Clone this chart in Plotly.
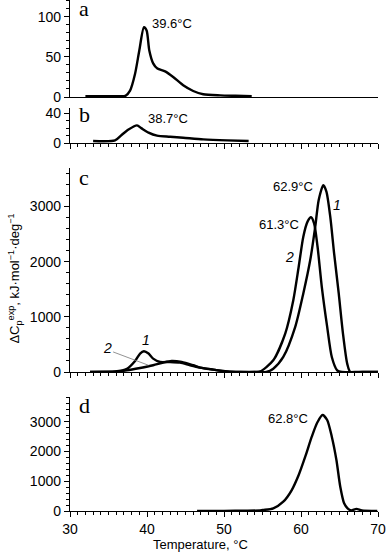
import plotly.graph_objects as go

# ---- data ----
Ta = [32.0, 34.0, 36.0, 37.2, 37.8, 38.45, 39.0, 39.6, 39.95, 40.3, 40.8, 41.35, 42.35, 43.4, 44.7, 46.0, 47.3, 49.5, 51.5, 53.6]
Va = [1, 1, 1, 1.5, 8, 29, 58, 87, 83, 58, 42, 35.5, 32, 25, 14.6, 7.5, 3.4, 2, 1.5, 1]

Tb = [33.0, 35.85, 36.7, 37.6, 38.7, 39.3, 40.2, 41.3, 43.0, 44.7, 47.3, 50.4, 53.2]
Vb = [2.7, 3.5, 10.7, 18, 23.5, 19.5, 13.8, 9.8, 8.4, 7.1, 4.9, 3.5, 2.7]

Tc1 = [32.6, 34.5, 35.85, 37.4, 38.45, 39.1, 39.6, 40.2, 40.8, 41.7, 43.0, 44.3, 45.6, 46.9, 48.6, 50.4, 52.1, 54.0,
       55.5, 56.4, 57.7, 59.25, 60.3, 61.2, 61.85, 62.3, 62.9, 63.3, 63.8, 64.3, 64.9, 65.45, 66.0, 66.4, 68.0, 70.0]
Vc1 = [0, 5, 10, 60, 200, 335, 376, 335, 243, 182, 182, 170, 122, 80, 43, 10, 0, 0,
       0, 60, 273, 818, 1425, 2030, 2636, 3121, 3390, 3273, 2818, 2152, 1425, 697, 152, 0, 0, 0]

Tc2 = [32.6, 35.85, 37.4, 39.1, 40.8, 42.1, 43.2, 44.5, 46.0, 46.9, 48.6, 50.4, 52.1, 54.0, 54.7, 56.4, 57.95, 59.0,
       59.7, 60.3, 60.85, 61.3, 61.7, 62.15, 62.7, 63.4, 64.0, 64.7, 65.3, 67.0, 70.0]
Vc2 = [0, 5, 30, 73, 122, 170, 200, 182, 122, 80, 43, 10, 0, 0, 10, 212, 697, 1303,
       1909, 2454, 2727, 2806, 2697, 2272, 1545, 818, 273, 30, 0, 0, 0]

Td = [46.5, 50.0, 53.0, 54.7, 55.1, 56.4, 57.7, 58.8, 59.7, 60.55, 61.4, 62.1, 62.8, 63.4, 64.0, 64.6, 65.1, 65.6,
      66.05, 66.5, 67.2, 67.9, 69.9]
Vd = [0, 5, 10, 20, 34, 90, 313, 705, 1209, 1824, 2496, 2966, 3225, 3057, 2496, 1713, 816, 259,
      90, 20, 70, 20, 0]

x_ticks = [30, 40, 50, 60, 70]
FONT = "Liberation Sans, Arial, sans-serif"
SERIF = "Liberation Serif, Times New Roman, serif"

fig = go.Figure()
line = dict(color="black", width=2.4, shape="spline", smoothing=0.7)
fig.add_trace(go.Scatter(x=Ta, y=Va, mode="lines", line=line, xaxis="x", yaxis="y"))
fig.add_trace(go.Scatter(x=Tb, y=Vb, mode="lines", line=line, xaxis="x2", yaxis="y2"))
fig.add_trace(go.Scatter(x=Tc1, y=Vc1, mode="lines", line=line, xaxis="x3", yaxis="y3"))
fig.add_trace(go.Scatter(x=Tc2, y=Vc2, mode="lines", line=line, xaxis="x3", yaxis="y3"))
fig.add_trace(go.Scatter(x=Td, y=Vd, mode="lines", line=line, xaxis="x4", yaxis="y4"))

H = 511.0
def dom(top, bot):
    return [(H - bot) / H, (H - top) / H]

def xax(anchor, ticks=True, labels=False):
    d = dict(range=[30, 70], domain=[0, 1], anchor=anchor, showline=True, linecolor="black", linewidth=1.4,
             showgrid=False, zeroline=False, tickvals=x_ticks, showticklabels=labels, automargin=False,
             tickfont=dict(family=FONT, size=14, color="black"))
    if ticks:
        d.update(ticks="outside", ticklen=5, tickwidth=1, tickcolor="black",
                 minor=dict(dtick=1, tick0=30, ticks="outside", ticklen=3, tickwidth=1, tickcolor="black"))
    else:
        d.update(ticks="")
    return d

def yax(anchor, domain, rng, dtick, mdtick):
    return dict(range=rng, domain=domain, anchor=anchor, showline=True, linecolor="black", linewidth=1.4,
                showgrid=False, zeroline=False, ticks="outside", ticklen=5, tickwidth=1, tickcolor="black",
                dtick=dtick, tick0=0, tickfont=dict(family=FONT, size=14, color="black"), automargin=False,
                minor=dict(dtick=mdtick, tick0=0, ticks="outside", ticklen=3, tickwidth=1, tickcolor="black"))

fig.update_layout(
    width=387, height=560, margin=dict(l=70, r=9, t=0, b=49, autoexpand=False),
    paper_bgcolor="white", plot_bgcolor="white", showlegend=False,
    xaxis=xax("y", ticks=False),
    xaxis2=xax("y2"),
    xaxis3=xax("y3"),
    xaxis4=xax("y4", labels=True),
    yaxis=yax("x", dom(0, 97), [0, 121], 50, 10),
    yaxis2=yax("x2", dom(108, 143), [0, 46.7], 40, 10),
    yaxis3=yax("x3", dom(168, 372), [0, 3700], 1000, 200),
    yaxis4=yax("x4", dom(397, 511), [0, 3830], 1000, 200),
)

ann_font = dict(family=FONT, size=13, color="black")
ital_font = dict(family=FONT, size=14, color="black")
letter_font = dict(family=SERIF, size=22, color="black")
anns = [
    dict(x=31.85, y=110, xref="x", yref="y", text="a", font=letter_font),
    dict(x=31.85, y=37.5, xref="x2", yref="y2", text="b", font=letter_font),
    dict(x=31.85, y=3533, xref="x3", yref="y3", text="c", font=letter_font),
    dict(x=31.85, y=3557, xref="x4", yref="y4", text="d", font=letter_font),
    dict(x=43.3, y=92, xref="x", yref="y", text="39.6°C", font=ann_font),
    dict(x=42.7, y=33.3, xref="x2", yref="y2", text="38.7°C", font=ann_font),
    dict(x=58.9, y=3364, xref="x3", yref="y3", text="62.9°C", font=ann_font),
    dict(x=57.1, y=2667, xref="x3", yref="y3", text="61.3°C", font=ann_font),
    dict(x=64.7, y=3031, xref="x3", yref="y3", text="<i>1</i>", font=ital_font),
    dict(x=58.5, y=2091, xref="x3", yref="y3", text="<i>2</i>", font=ital_font),
    dict(x=39.9, y=576, xref="x3", yref="y3", text="<i>1</i>", font=ital_font),
    dict(x=34.9, y=436, xref="x3", yref="y3", text="<i>2</i>", font=ital_font),
    dict(x=58.35, y=3100, xref="x4", yref="y4", text="62.8°C", font=ann_font),
    dict(x=(200 - 70) / 308, y=-0.065, xref="paper", yref="paper", text="Temperature, °C", font=ann_font),
    dict(x=-0.18, y=(511 - 279) / 511, xref="paper", yref="paper", textangle=-90,
         text="ΔC<sub>p</sub><sup>exp</sup>, kJ·mol<sup>−1</sup>·deg<sup>−1</sup>",
         font=dict(family=FONT, size=13, color="black")),
]
for a in anns:
    a.setdefault("showarrow", False)
    a.setdefault("xanchor", "center")
    a.setdefault("yanchor", "middle")
fig.update_layout(annotations=anns)

fig.add_shape(type="line", xref="x3", yref="y3", x0=35.6, y0=364, x1=40.2, y1=122,
              line=dict(color="#777777", width=0.8))

fig.write_html("out.html", config={"displayModeBar": False},
               post_script="document.body.style.margin='0';document.body.style.overflow='hidden';")
